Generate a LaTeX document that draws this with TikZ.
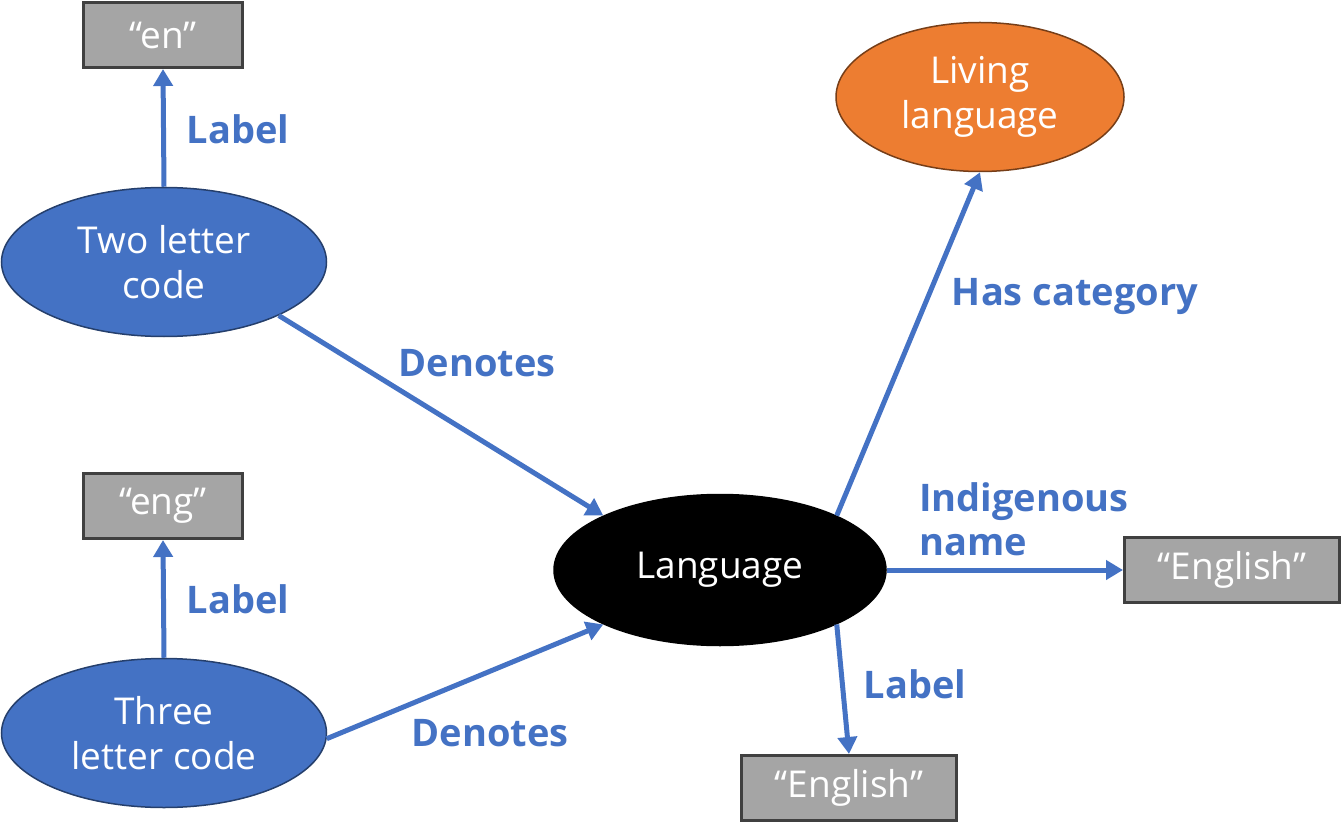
\documentclass[tikz,border=0pt]{standalone}
\usepackage{fontspec}
\setmainfont{Open Sans}
\usetikzlibrary{shapes.geometric,arrows.meta}

\definecolor{conceptblue}{HTML}{4472C4}
\definecolor{conceptorange}{HTML}{ED7D31}
\definecolor{literalgrey}{HTML}{A5A5A5}
\definecolor{literalborder}{HTML}{404040}

\newcommand{\boxfont}{\fontsize{37}{45}\selectfont}
\newcommand{\relfont}{\bfseries\fontsize{38}{44}\selectfont}

\tikzset{
  concept/.style={ellipse, inner sep=0pt, line width=1.5pt, text=white, align=center, font=\boxfont,
    minimum width=325pt, minimum height=149pt},
  blueconcept/.style={concept, fill=conceptblue, draw=conceptblue!55!black},
  literal/.style={rectangle, fill=literalgrey, draw=literalborder, line width=3pt, text=white,
    font=\boxfont, minimum width=159pt, minimum height=65pt},
  rel/.style={draw=conceptblue, line width=5pt, -{Triangle[length=17pt,width=19pt]}},
  rellabel/.style={text=conceptblue, font=\relfont, align=left, inner sep=0pt}
}

\begin{document}
\begin{tikzpicture}[x=1pt, y=-1pt]

\useasboundingbox (0,0) rectangle (1343,834);

% codes
\node[literal] (en) at (163,35) {“en”};
\node[blueconcept] (two) at (164,262) {Two letter\\code};
\node[literal] (eng) at (163,506) {“eng”};
\node[blueconcept] (three) at (164,733) {Three\\letter code};

% language
\node[concept, fill=black, draw=black, minimum width=332pt, minimum height=151pt] (lang) at (720,570) {Language};
\node[concept, fill=conceptorange, draw=conceptorange!50!black, minimum width=288pt, minimum height=149pt] (living) at (980,97) {Living\\language};
\node[literal, minimum width=215pt] (engright) at (1232,570) {“English”};
\node[literal, minimum width=215pt] (engbottom) at (849,788) {“English”};

% relations
\draw[rel] (two.north) -- (en.south);
\draw[rel] (three.north) -- (eng.south);
\draw[rel] (two.-25) -- (lang.155);
\draw[rel] (three.-2) -- (lang.205);
\draw[rel] (lang.25) -- (living.south);
\draw[rel] (lang.east) -- (engright.west);
\draw[rel] (lang.-25) -- (engbottom.north);

\node[rellabel] (labelen) at (238,129) {Label};
\node[rellabel] (labeleng) at (238,599) {Label};
\node[rellabel] (denotestwo) at (477,363) {Denotes};
\node[rellabel] (denotesthree) at (490,733) {Denotes};
\node[rellabel] (hascat) at (1075,297) {Has category};
\node[rellabel, anchor=west] (indig) at (919,519) {Indigenous\\name};
\node[rellabel] (labellang) at (915,684) {Label};

\end{tikzpicture}
\end{document}
